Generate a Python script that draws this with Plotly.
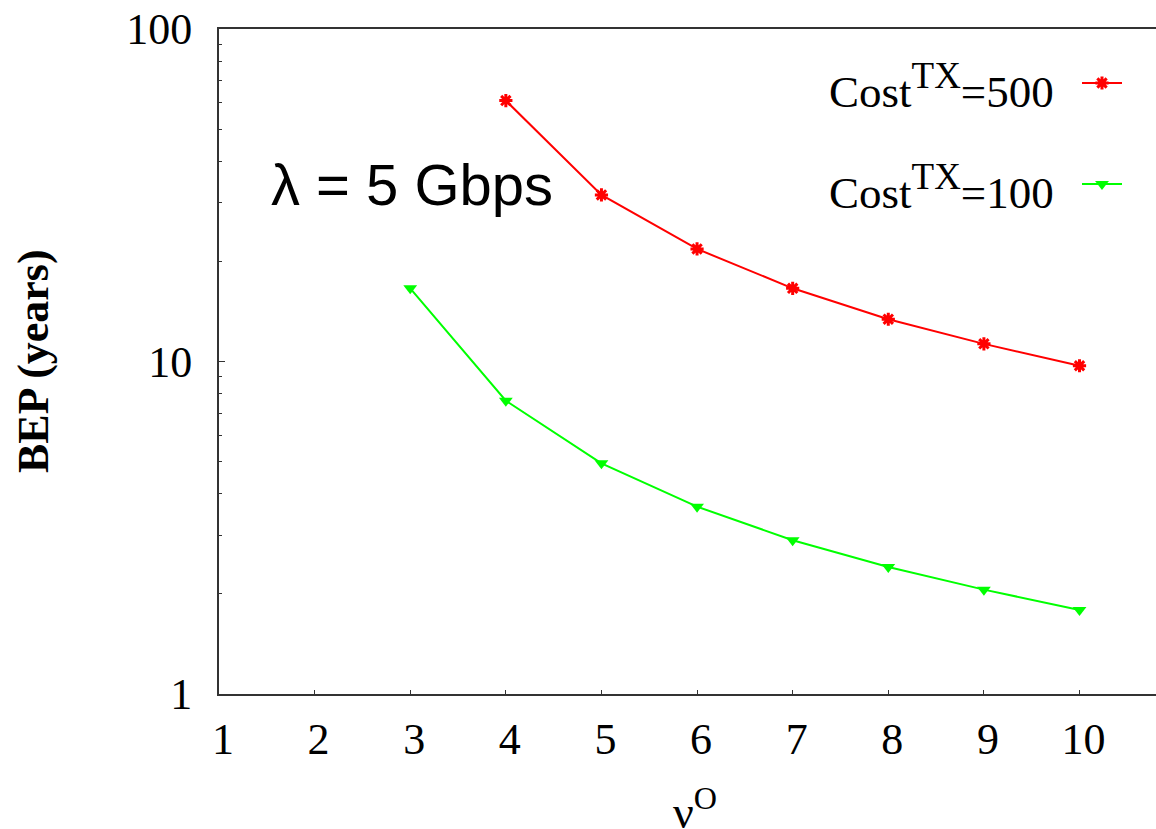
import plotly.graph_objects as go

x_red = [4, 5, 6, 7, 8, 9, 10]
bep_cost500 = [60.9, 31.7, 21.8, 16.6, 13.4, 11.3, 9.71]
x_green = [3, 4, 5, 6, 7, 8, 9, 10]
bep_cost100 = [16.6, 7.62, 4.94, 3.66, 2.90, 2.41, 2.06, 1.79]
x_ticks = [1, 2, 3, 4, 5, 6, 7, 8, 9, 10]
y_ticks = [1, 10, 100]
y_minor = [2, 3, 4, 5, 6, 7, 8, 9, 20, 30, 40, 50, 60, 70, 80, 90]
labels = ["Cost<sup><span style='font-size:37px'>TX</span></sup>=500",
          "Cost<sup><span style='font-size:37px'>TX</span></sup>=100"]

W, H = 1156, 829
L, T, B = 219, 29, 135
pw, ph = W - L, H - T - B

def px(x):
    return (x - L) / pw

def py(y):
    return (H - B - y) / ph

RED = "#ff0000"
GREEN = "#00ff00"
AX = "#333333"
SERIF = "Liberation Serif"

fig = go.Figure()
fig.add_trace(go.Scatter(x=x_red, y=bep_cost500, mode="lines+markers",
                         line=dict(color=RED, width=2),
                         marker=dict(symbol="asterisk", size=11, color=RED,
                                     line=dict(color=RED, width=3)),
                         showlegend=False))
fig.add_trace(go.Scatter(x=x_green, y=bep_cost100, mode="lines+markers",
                         line=dict(color=GREEN, width=2),
                         marker=dict(symbol="triangle-down", size=12, color=GREEN),
                         showlegend=False))

# legend samples (drawn on an overlay axis in paper-like units)
fig.add_trace(go.Scatter(x=[px(1082), px(1122)], y=[py(83), py(83)], mode="lines",
                         line=dict(color=RED, width=2), xaxis="x2", yaxis="y2",
                         showlegend=False, hoverinfo="skip"))
fig.add_trace(go.Scatter(x=[px(1102)], y=[py(83)], mode="markers",
                         marker=dict(symbol="asterisk", size=11, color=RED,
                                     line=dict(color=RED, width=3)),
                         xaxis="x2", yaxis="y2", showlegend=False, hoverinfo="skip"))
fig.add_trace(go.Scatter(x=[px(1082), px(1122)], y=[py(184), py(184)], mode="lines",
                         line=dict(color=GREEN, width=2), xaxis="x2", yaxis="y2",
                         showlegend=False, hoverinfo="skip"))
fig.add_trace(go.Scatter(x=[px(1102)], y=[py(184)], mode="markers",
                         marker=dict(symbol="triangle-down", size=12, color=GREEN),
                         xaxis="x2", yaxis="y2", showlegend=False, hoverinfo="skip"))

fig.update_layout(
    width=W, height=H,
    margin=dict(l=L, r=0, t=T, b=B),
    paper_bgcolor="white", plot_bgcolor="white",
    font=dict(family=SERIF, size=44, color="black"),
    xaxis=dict(range=[1, 10.8], tickvals=x_ticks, ticktext=[str(v) for v in x_ticks],
               showgrid=False, zeroline=False, showline=True, linecolor=AX, linewidth=2,
               mirror=True, ticks="inside", ticklen=4, tickwidth=1, tickcolor=AX,
               ticklabelstandoff=5, ticklabelshift=4,
               tickfont=dict(family=SERIF, size=44, color="black")),
    yaxis=dict(type="log", range=[0, 2], tickvals=y_ticks, ticktext=[str(v) for v in y_ticks],
               showgrid=False, zeroline=False, showline=True, linecolor=AX, linewidth=2,
               ticks="inside", ticklen=6, tickwidth=1, tickcolor=AX,
               ticklabelstandoff=16,
               minor=dict(tickvals=y_minor, ticks="inside", ticklen=3, tickwidth=1,
                          tickcolor=AX, showgrid=False),
               tickfont=dict(family=SERIF, size=44, color="black")),
    xaxis2=dict(range=[0, 1], overlaying="x", visible=False),
    yaxis2=dict(range=[0, 1], overlaying="y", visible=False),
    annotations=[
        dict(text=labels[0], xref="paper", yref="paper", x=px(1056), y=py(86),
             xanchor="right", yanchor="middle", showarrow=False,
             font=dict(family=SERIF, size=45, color="black")),
        dict(text=labels[1], xref="paper", yref="paper", x=px(1056), y=py(187),
             xanchor="right", yanchor="middle", showarrow=False,
             font=dict(family=SERIF, size=45, color="black")),
        dict(text="λ = 5 Gbps", xref="paper", yref="paper", x=px(412), y=py(184),
             xanchor="center", yanchor="middle", showarrow=False,
             font=dict(family="Liberation Sans", size=58, color="black")),
        dict(text="<b>BEP (years)</b>", xref="paper", yref="paper", x=px(34), y=py(361),
             xanchor="center", yanchor="middle", textangle=-90, showarrow=False,
             font=dict(family=SERIF, size=44, color="black")),
        dict(text="ν<sup>O</sup>", xref="paper", yref="paper", x=px(695), y=py(809),
             xanchor="center", yanchor="middle", showarrow=False,
             font=dict(family=SERIF, size=46, color="black")),
    ],
)

fig.write_html("out.html")
